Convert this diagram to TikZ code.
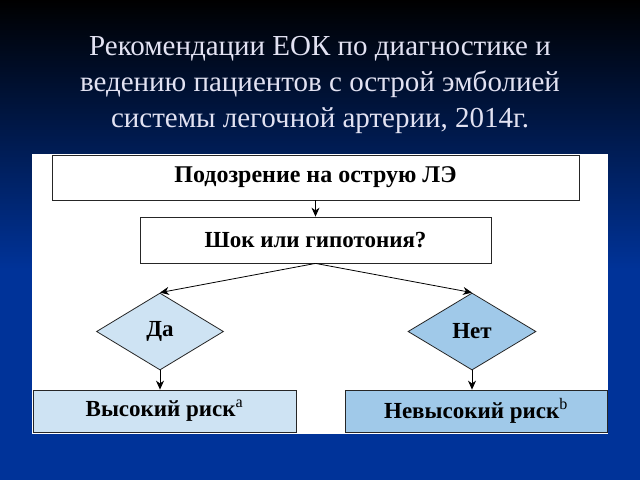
\documentclass[tikz,border=0pt]{standalone}
\usepackage{fontspec}
\setmainfont{Liberation Serif}
\usetikzlibrary{arrows.meta,positioning,calc,shapes.geometric}
\definecolor{bgblue}{RGB}{0,51,153}
\definecolor{titlegray}{RGB}{226,226,242}
\definecolor{lightfill}{RGB}{206,227,243}
\definecolor{darkfill}{RGB}{160,201,233}

\begin{document}
\begin{tikzpicture}[x=1pt,y=-1pt]
\tikzset{box/.style={draw=black!85,line width=0.8pt,inner sep=0pt,font=\bfseries\fontsize{23}{26}\selectfont}}
\tikzset{choice/.style={diamond,draw=black!85,line width=0.8pt,inner sep=0pt,font=\bfseries\fontsize{23}{26}\selectfont}}
\tikzset{link/.style={-{Stealth[length=9pt,width=8pt]},line width=0.8pt}}
% background and panel
\fill[bgblue] (0,0) rectangle (640,480);
\shade[top color=black,bottom color=bgblue] (0,0) rectangle (640,270);
\useasboundingbox (0,0) rectangle (640,480);
\fill[white] (32,154) rectangle (608,434);
% title
\node[text=titlegray,align=center,font=\fontsize{29}{36}\selectfont] (title) at (320,85)
  {Рекомендации ЕОК по диагностике и\\ведению пациентов с острой эмболией\\системы легочной артерии, 2014г.};
% flowchart
\node[box,fill=white,minimum width=527pt,minimum height=45pt,font=\bfseries\fontsize{24}{26}\selectfont] (suspect) at (315.5,177.5) {Подозрение на острую ЛЭ};
\node[box,fill=white,minimum width=351pt,minimum height=46pt] (shock) at (315.5,240) {Шок или гипотония?};
\node[choice,fill=lightfill,minimum width=127pt,minimum height=77pt] (yes) at (160,331.5) {Да};
\node[choice,fill=darkfill,minimum width=128pt,minimum height=77pt] (no) at (472,331.5) {Нет};
\node[box,fill=lightfill,minimum width=263pt,minimum height=42pt] (high) at (164.5,411) {Высокий риск\textsuperscript{\mdseries a}};
\node[box,fill=darkfill,minimum width=262pt,minimum height=42pt] (low) at (476,411) {Невысокий риск\textsuperscript{\mdseries b}};
\draw[link] (suspect) -- (shock);
\draw[link] (shock.south) -- (yes.north);
\draw[link] (shock.south) -- (no.north);
\draw[link] (yes.south) -- (yes.south |- high.north);
\draw[link] (no.south) -- (no.south |- low.north);
\end{tikzpicture}
\end{document}
